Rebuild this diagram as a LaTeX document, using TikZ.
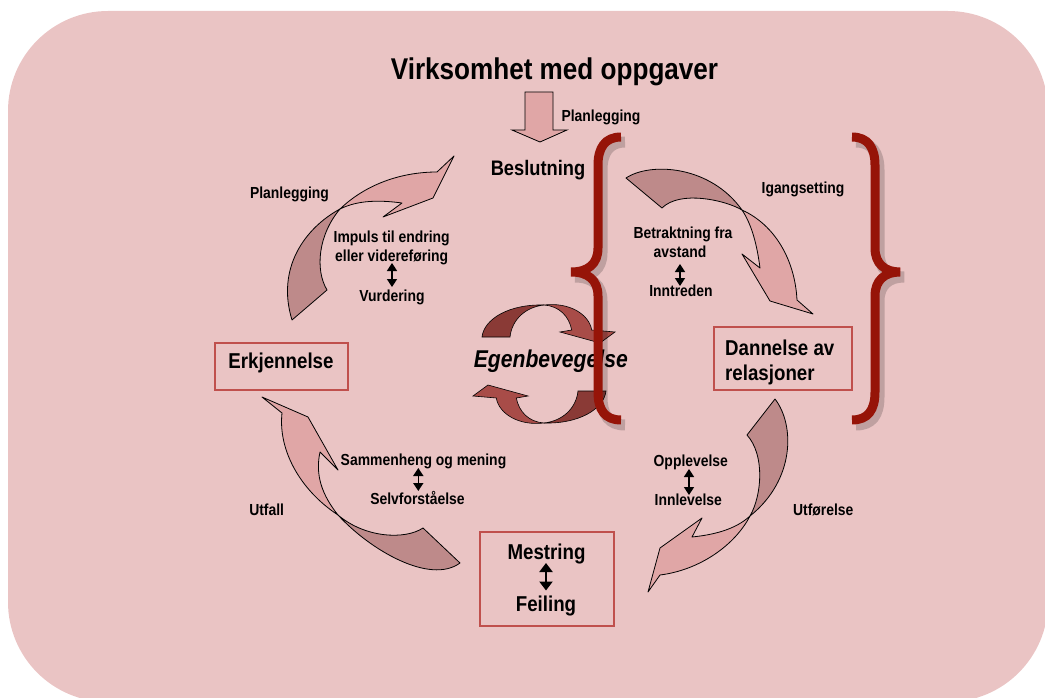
\documentclass[tikz,border=0pt]{standalone}
\usepackage{fontspec}
\setmainfont{Liberation Sans}[FakeStretch=0.87]
\usetikzlibrary{arrows.meta}
\definecolor{bgpink}{RGB}{234,196,196}
\definecolor{arrback}{RGB}{190,138,138}
\definecolor{arrfront}{RGB}{224,166,166}
\definecolor{boxred}{RGB}{192,80,77}
\definecolor{bracered}{RGB}{150,20,8}
\definecolor{cdark}{RGB}{138,58,54}
\definecolor{clight}{RGB}{168,76,72}
\begin{document}
\begin{tikzpicture}[x=1pt,y=-1pt,
  lbl/.style={font=\fontsize{16}{19}\selectfont\bfseries, inner sep=0pt, anchor=base},
  big/.style={font=\fontsize{21.5}{25}\selectfont\bfseries, inner sep=0pt, anchor=base},
  backpart/.style={fill=arrback, draw=black, line width=0.8pt, line join=round},
  frontpart/.style={fill=arrfront, draw=black, line width=0.8pt, line join=round},
  cdarkpart/.style={fill=cdark, draw=black, line width=0.6pt},
  clightpart/.style={fill=clight, draw=black, line width=0.6pt},
  framebox/.style={draw=boxred, line width=1.1pt, fill=bgpink, inner sep=0pt},
  dblarrow/.style={line width=1.6pt, {Triangle[width=10pt,length=8pt]}-{Triangle[width=10pt,length=8pt]}},
  bracepath/.style={draw=bracered, line width=9pt, line cap=butt},
  braceshadow/.style={draw=black, line width=11pt, opacity=0.18}
]
\useasboundingbox (0,0) rectangle (1045,698);
\clip (0,0) rectangle (1045,698);
% background
\fill[bgpink, rounded corners=100pt] (8,11) rectangle (1048,702);

% title
\node[font=\fontsize{30}{34}\selectfont\bfseries, inner sep=0pt, anchor=base] (title) at (554.5,80) {Virksomhet med oppgaver};

% block down arrow
\draw[fill=arrfront, draw=black, line width=0.8pt] (525,92) -- (553,92) -- (553,130) -- (567,130) -- (540,142) -- (512,130) -- (525,130) -- cycle;
\node[lbl] (plan1) at (601,122) {Planlegging};
\node[big, font=\fontsize{21}{25}\selectfont\bfseries] (beslut) at (538,176) {Beslutning};

% top-left curved arrow
\draw[backpart] (340,209) .. controls (305,228) and (276,268) .. (292,320) -- (327,290) .. controls (315,270) and (318,235) .. (340,209) -- cycle;
\draw[frontpart] (340,209) .. controls (365,185) and (400,172) .. (437,172) -- (454,156) -- (433,198) -- (383,217) -- (402,203) .. controls (380,200) and (358,200) .. (340,209) -- cycle;

% top-right curved arrow
\draw[backpart] (626,178) .. controls (650,162) and (710,165) .. (742,210) .. controls (725,200) and (680,190) .. (662,208) -- cycle;
\draw[frontpart] (742,210) .. controls (775,225) and (795,260) .. (797,300) -- (813,314) -- (770,301) -- (742,254) -- (760,268) .. controls (757,245) and (752,225) .. (742,210) -- cycle;

% bottom-right curved arrow
\draw[backpart] (775,399) .. controls (795,425) and (795,480) .. (750,516) .. controls (762,495) and (765,455) .. (747,435) -- cycle;
\draw[frontpart] (750,516) .. controls (735,545) and (700,570) .. (660,575) -- (648,592) -- (660,548) -- (702,518) -- (692,537) .. controls (712,535) and (735,530) .. (750,516) -- cycle;

% bottom-left curved arrow
\draw[backpart] (338,515) .. controls (370,550) and (430,585) .. (460,563) -- (423,528) .. controls (405,540) and (365,538) .. (338,515) -- cycle;
\draw[frontpart] (338,515) .. controls (300,490) and (278,450) .. (282,413) -- (262,397) -- (308,417) -- (338,470) -- (320,452) .. controls (315,475) and (322,495) .. (338,515) -- cycle;

% boxes
\node[framebox, minimum width=133pt, minimum height=47pt] (erkbox) at (281.5,366.5) {};
\node[framebox, minimum width=138pt, minimum height=63pt] (danbox) at (783,358.5) {};
\node[framebox, minimum width=134pt, minimum height=94pt] (mesbox) at (547,579) {};

\node[big] (erk) at (281,368.3) {Erkjennelse};
\node[big, anchor=base west] (dan1) at (725,355) {Dannelse av};
\node[big, anchor=base west] (dan2) at (725,380) {relasjoner};
\node[big] (mes) at (546.5,559.3) {Mestring};
\node[big] (feil) at (546,611.7) {Feiling};
\coordinate (m1) at (546,563);
\coordinate (m2) at (546,590.5);
\draw[line width=2.4pt, {Triangle[width=13pt,length=9pt]}-{Triangle[width=13pt,length=9pt]}] (m1) -- (m2);

% labels top-left
\node[lbl] (plan2) at (289.5,198.5) {Planlegging};
\node[lbl] (imp1) at (391.7,243) {Impuls til endring};
\node[lbl] (imp2) at (391.7,261.7) {eller videreføring};
\coordinate (a1) at (392,263);
\coordinate (a2) at (392,287);
\draw[dblarrow] (a1) -- (a2);
\node[lbl] (vurd) at (392,301.7) {Vurdering};

% labels top-right
\node[lbl] (igang) at (803,193.3) {Igangsetting};
\node[lbl] (betr1) at (683,238) {Betraktning fra};
\node[lbl] (betr2) at (680,257.3) {avstand};
\coordinate (b1) at (680,264);
\coordinate (b2) at (680,286);
\draw[dblarrow] (b1) -- (b2);
\node[lbl] (inntr) at (681,296.7) {Inntreden};

% labels bottom-right
\node[lbl] (oppl) at (690.8,466.7) {Opplevelse};
\coordinate (c1) at (689,469);
\coordinate (c2) at (689,495);
\draw[dblarrow] (c1) -- (c2);
\node[lbl] (innl) at (688.3,505.7) {Innlevelse};
\node[lbl] (utfor) at (823.3,515.7) {Utførelse};

% labels bottom-left
\node[lbl] (samm) at (423.5,465) {Sammenheng og mening};
\coordinate (d1) at (418.3,468);
\coordinate (d2) at (418.3,491);
\draw[dblarrow] (d1) -- (d2);
\node[lbl] (selv) at (417.5,504) {Selvforståelse};
\node[lbl] (utfall) at (266.7,515.7) {Utfall};

% central circular arrows
\begin{scope}[shift={(544,364)}]
  \draw[cdarkpart] (-62,-27) .. controls (-60,-45) and (-35,-60) .. (0,-59) .. controls (-18,-57) and (-32,-45) .. (-34,-27) -- cycle;
  \draw[clightpart] (0,-59) .. controls (25,-62) and (45,-50) .. (47.7,-34) -- (71,-32) -- (56,-21) -- (16,-32) -- (27.7,-34) .. controls (25,-48) and (15,-58) .. (0,-59) -- cycle;
  \begin{scope}[rotate=180]
    \draw[cdarkpart] (-62,-27) .. controls (-60,-45) and (-35,-60) .. (0,-59) .. controls (-18,-57) and (-32,-45) .. (-34,-27) -- cycle;
    \draw[clightpart] (0,-59) .. controls (25,-62) and (45,-50) .. (47.7,-34) -- (71,-32) -- (56,-21) -- (16,-32) -- (27.7,-34) .. controls (25,-48) and (15,-58) .. (0,-59) -- cycle;
  \end{scope}
\end{scope}
\node[font=\fontsize{24.3}{28}\selectfont\bfseries\itshape, inner sep=0pt, anchor=base] (egen) at (550.8,367.3) {Egenbevegelse};

% braces with shadow
\begin{scope}[shift={(4,5)}]
  \draw[braceshadow] (621,137) .. controls (605,137) and (598,148) .. (598,165) -- (598,248) .. controls (598,264) and (588,272) .. (571,272) .. controls (588,272) and (598,280) .. (598,296) -- (598,392) .. controls (598,410) and (605,420) .. (621,420);
  \draw[braceshadow] (852,137) .. controls (868,137) and (875,148) .. (875,165) -- (875,248) .. controls (875,264) and (885,272) .. (900,272) .. controls (885,272) and (875,280) .. (875,296) -- (875,392) .. controls (875,410) and (868,420) .. (852,420);
\end{scope}
\draw[bracepath] (621,137) .. controls (605,137) and (598,148) .. (598,165) -- (598,248) .. controls (598,264) and (588,272) .. (571,272) .. controls (588,272) and (598,280) .. (598,296) -- (598,392) .. controls (598,410) and (605,420) .. (621,420);
\draw[bracepath] (852,137) .. controls (868,137) and (875,148) .. (875,165) -- (875,248) .. controls (875,264) and (885,272) .. (900,272) .. controls (885,272) and (875,280) .. (875,296) -- (875,392) .. controls (875,410) and (868,420) .. (852,420);
\end{tikzpicture}
\end{document}
